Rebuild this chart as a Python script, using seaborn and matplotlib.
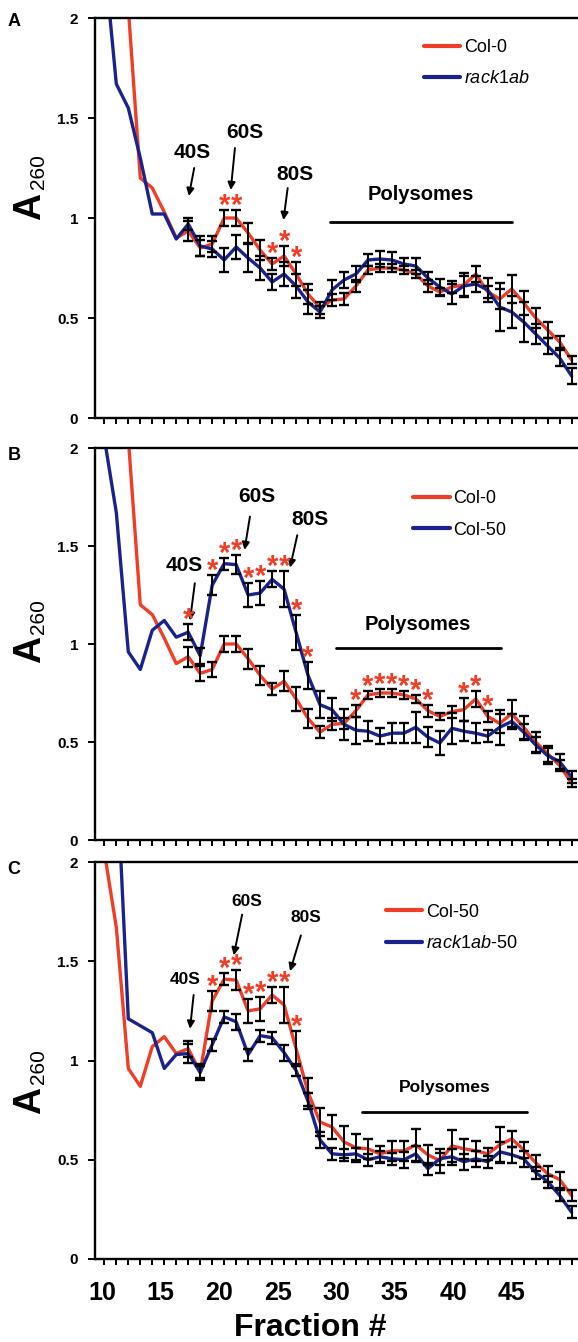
import numpy as np
import pandas as pd
import matplotlib
matplotlib.use("Agg")
import matplotlib.pyplot as plt
import seaborn as sns

# fractions collected from the gradient
fractions = list(range(10, 50))
eb_fractions = list(range(17, 50))

# A260 profiles (mean), one value per fraction 10..49
col0 = [3.5, 3.0, 2.05, 1.20, 1.15, 1.03, 0.90, 0.935, 0.85, 0.87,
        1.00, 1.00, 0.925, 0.84, 0.77, 0.81, 0.72, 0.62, 0.55, 0.59,
        0.595, 0.66, 0.74, 0.75, 0.75, 0.74, 0.72, 0.66, 0.63, 0.655,
        0.665, 0.72, 0.63, 0.595, 0.645, 0.575, 0.50, 0.44, 0.38, 0.29]
rack1ab = [2.3, 1.67, 1.55, 1.30, 1.02, 1.02, 0.895, 0.97, 0.86, 0.845,
           0.79, 0.855, 0.80, 0.75, 0.68, 0.72, 0.66, 0.58, 0.53, 0.64,
           0.69, 0.72, 0.79, 0.795, 0.79, 0.77, 0.76, 0.70, 0.655, 0.62,
           0.66, 0.67, 0.64, 0.555, 0.53, 0.48, 0.42, 0.36, 0.30, 0.21]
col50 = [2.05, 1.67, 0.96, 0.87, 1.07, 1.12, 1.035, 1.06, 0.94, 1.30,
         1.41, 1.405, 1.25, 1.26, 1.33, 1.28, 1.06, 0.84, 0.69, 0.665,
         0.59, 0.56, 0.555, 0.53, 0.545, 0.545, 0.575, 0.525, 0.495, 0.57,
         0.555, 0.545, 0.53, 0.575, 0.605, 0.55, 0.485, 0.43, 0.40, 0.32]
rack1ab50 = [3.5, 2.5, 1.21, 1.175, 1.14, 0.96, 1.03, 1.035, 0.94, 1.08,
             1.22, 1.195, 1.03, 1.125, 1.115, 1.04, 0.95, 0.795, 0.60, 0.53,
             0.525, 0.53, 0.50, 0.515, 0.505, 0.50, 0.53, 0.455, 0.505, 0.515,
             0.49, 0.505, 0.49, 0.54, 0.525, 0.505, 0.435, 0.39, 0.32, 0.235]

# standard errors, fractions 17..49
err_col0 = [0.05, 0.04, 0.04, 0.04, 0.04, 0.05, 0.05, 0.03, 0.05, 0.06, 0.05,
            0.03, 0.03, 0.03, 0.03, 0.02, 0.02, 0.02, 0.02, 0.02, 0.03, 0.02,
            0.03, 0.06, 0.04, 0.03, 0.05, 0.07, 0.06, 0.05, 0.04, 0.03, 0.02]
err_rack1ab = [0.03, 0.05, 0.04, 0.06, 0.06, 0.07, 0.06, 0.04, 0.06, 0.06, 0.06,
               0.03, 0.05, 0.04, 0.04, 0.03, 0.04, 0.04, 0.03, 0.04, 0.03, 0.04,
               0.05, 0.05, 0.04, 0.06, 0.12, 0.08, 0.10, 0.05, 0.04, 0.04, 0.04]
err_col50 = [0.04, 0.04, 0.05, 0.03, 0.05, 0.06, 0.06, 0.04, 0.09, 0.09, 0.07,
             0.07, 0.06, 0.08, 0.07, 0.05, 0.04, 0.05, 0.05, 0.08, 0.05, 0.06,
             0.08, 0.05, 0.05, 0.03, 0.09, 0.04, 0.04, 0.04, 0.04, 0.04, 0.03]
err_rack1ab50 = [0.05, 0.03, 0.03, 0.03, 0.04, 0.03, 0.03, 0.03, 0.04, 0.03, 0.04,
                 0.04, 0.03, 0.03, 0.03, 0.03, 0.03, 0.03, 0.04, 0.04, 0.03, 0.03,
                 0.04, 0.04, 0.04, 0.03, 0.05, 0.04, 0.04, 0.03, 0.03, 0.03, 0.03]

# fractions marked significant (red asterisks)
stars_a = [20, 21, 24, 25, 26]
stars_b = [17, 19, 20, 21, 22, 23, 24, 25, 26, 27,
           31, 32, 33, 34, 35, 36, 37, 40, 41, 42]
stars_c = [19, 20, 21, 22, 23, 24, 25, 26]

xtick_labels = ["10", "15", "20", "25", "30", "35", "40", "45"]
ytick_values = [0, 0.5, 1, 1.5, 2]
ytick_labels = ["0", "0.5", "1", "1.5", "2"]

RED = "#ef3e25"
BLUE = "#1a238c"

sns.set_style("ticks")
plt.rcParams["font.family"] = ["Liberation Sans", "DejaVu Sans"]
plt.rcParams["mathtext.fontset"] = "custom"
plt.rcParams["mathtext.rm"] = "Liberation Sans"
plt.rcParams["mathtext.it"] = "Liberation Sans:italic"
plt.rcParams["mathtext.bf"] = "Liberation Sans:bold"
for key in ("text.color", "axes.labelcolor", "xtick.color", "ytick.color", "axes.edgecolor"):
    plt.rcParams[key] = "black"

W, H = 578, 1342
fig = plt.figure(figsize=(W / 100, H / 100), dpi=100)


def px_axes(top, bottom, left=95, right=578):
    return fig.add_axes([left / W, 1 - bottom / H, (right - left) / W, (bottom - top) / H])


def draw_panel(ax, s1, s2, e1, e2, names, stars, notes, poly, leg, ylab_y,
               small=False, xlabels=False):
    df = pd.DataFrame({
        "Fraction": fractions * 2,
        "A260": s1 + s2,
        "line": [names[0]] * len(fractions) + [names[1]] * len(fractions),
    })
    sns.lineplot(data=df, x="Fraction", y="A260", hue="line", palette=[RED, BLUE],
                 linewidth=2.4, ax=ax, legend=True)
    # error bars drawn over the profiles
    k = fractions.index(eb_fractions[0])
    for s, e in ((s1, e1), (s2, e2)):
        ax.errorbar(eb_fractions, s[k:], yerr=e, fmt="none", ecolor="black",
                    elinewidth=1.4, capsize=3.8, capthick=1.7, zorder=4)

    # asterisks above the higher error bar
    for f in stars:
        i = fractions.index(f)
        j = eb_fractions.index(f)
        top = max(s1[i] + e1[j], s2[i] + e2[j]) + 0.065
        ax.annotate("*", xy=(f, top), xytext=(0, -12), textcoords="offset points",
                    ha="center", va="baseline", color=RED, fontsize=21,
                    fontweight="bold", zorder=5)

    fs = 12.5 if small else 15
    for label, txt_xy, tail, tip in notes:
        ax.text(*txt_xy, label, ha="center", va="center", fontsize=fs, fontweight="bold")
        ax.annotate("", xy=tip, xytext=tail,
                    arrowprops=dict(arrowstyle="-|>", lw=1.4, color="black",
                                    mutation_scale=11, shrinkA=0, shrinkB=0))

    (px0, px1, py, ty) = poly
    ax.plot([px0, px1], [py, py], color="black", lw=2.0)
    ax.text((px0 + px1) / 2, ty, "Polysomes", ha="center", va="center",
            fontsize=12.5 if small else 14.5, fontweight="bold")

    handles, _ = ax.get_legend_handles_labels()
    for h in handles:
        h.set_linewidth(3.0)
    ax.legend(handles, leg[2], loc="upper left", bbox_to_anchor=(leg[0], leg[1]),
              bbox_transform=ax.transData, frameon=False, fontsize=13,
              borderpad=0, borderaxespad=0, handlelength=2.0, handletextpad=0.2,
              labelspacing=0.8)

    ax.set_xlim(9.22, 49.53)
    ax.set_ylim(0, 2)
    ax.set_yticks(ytick_values)
    ax.set_yticklabels(ytick_labels, fontsize=11, fontweight="bold")
    ax.set_xticks(fractions, minor=True)
    pos = [9.8 + 4.886 * i for i in range(len(xtick_labels))]
    ax.set_xticks(pos)
    if xlabels:
        ax.set_xticklabels(xtick_labels, fontsize=18, fontweight="bold")
    else:
        ax.set_xticklabels([])
    ax.tick_params(axis="x", which="major", length=0, pad=16)
    ax.tick_params(axis="x", which="minor", length=4.5, width=1.4, direction="out")
    ax.tick_params(axis="y", which="major", length=5, width=1.4, direction="out", pad=7)
    for side in ("left", "bottom", "top"):
        ax.spines[side].set_linewidth(1.7)
    ax.spines["right"].set_visible(False)
    ax.set_xlabel("")
    ax.set_ylabel("")
    # A260 axis title: big bold A with a small subscript
    ax.text(-0.135, ylab_y, "A", transform=ax.transAxes, rotation=90, ha="center",
            va="center", fontsize=27, fontweight="bold")
    ax.text(-0.117, ylab_y + 0.085, "260", transform=ax.transAxes, rotation=90,
            ha="center", va="center", fontsize=15)


ax_a = px_axes(18, 418)
draw_panel(ax_a, col0, rack1ab, err_col0, err_rack1ab, ["Col-0", "rack1ab"], stars_a,
           [("40S", (17.3, 1.33), (17.5, 1.25), (17.05, 1.11)),
            ("60S", (21.7, 1.43), (20.9, 1.35), (20.55, 1.14)),
            ("80S", (25.9, 1.22), (25.3, 1.15), (24.95, 0.99))],
           (28.8, 44.0, 0.98, 1.12),
           (36.7, 1.895, ["Col-0", r"$\mathit{rack1ab}$"]), 0.53)

ax_b = px_axes(448, 840)
draw_panel(ax_b, col0, col50, err_col0, err_col50, ["Col-0", "Col-50"], stars_b,
           [("40S", (16.7, 1.40), (17.55, 1.31), (17.15, 1.12)),
            ("60S", (22.75, 1.755), (22.15, 1.65), (21.7, 1.48)),
            ("80S", (27.15, 1.635), (26.1, 1.555), (25.5, 1.39))],
           (29.3, 43.1, 0.98, 1.10),
           (35.8, 1.785, ["Col-0", "Col-50"]), 0.485)

ax_c = px_axes(862, 1259)
draw_panel(ax_c, col50, rack1ab50, err_col50, err_rack1ab50, ["Col-50", "rack1ab-50"], stars_c,
           [("40S", (16.7, 1.41), (17.45, 1.33), (17.15, 1.16)),
            ("60S", (21.85, 1.80), (21.5, 1.735), (20.8, 1.53)),
            ("80S", (26.85, 1.72), (26.4, 1.63), (25.5, 1.45))],
           (31.5, 45.3, 0.74, 0.865),
           (33.5, 1.79, ["Col-50", r"$\mathit{rack1ab}$-50"]), 0.40,
           small=True, xlabels=True)

for letter, y in (("A", 22), ("B", 455), ("C", 870)):
    fig.text(14 / W, 1 - y / H, letter, ha="center", va="center", fontsize=13, fontweight="bold")

fig.text(310 / W, 1 - 1336 / H, "Fraction #", ha="center", va="baseline", fontsize=23, fontweight="bold")

fig.savefig("out.png", dpi=100)
